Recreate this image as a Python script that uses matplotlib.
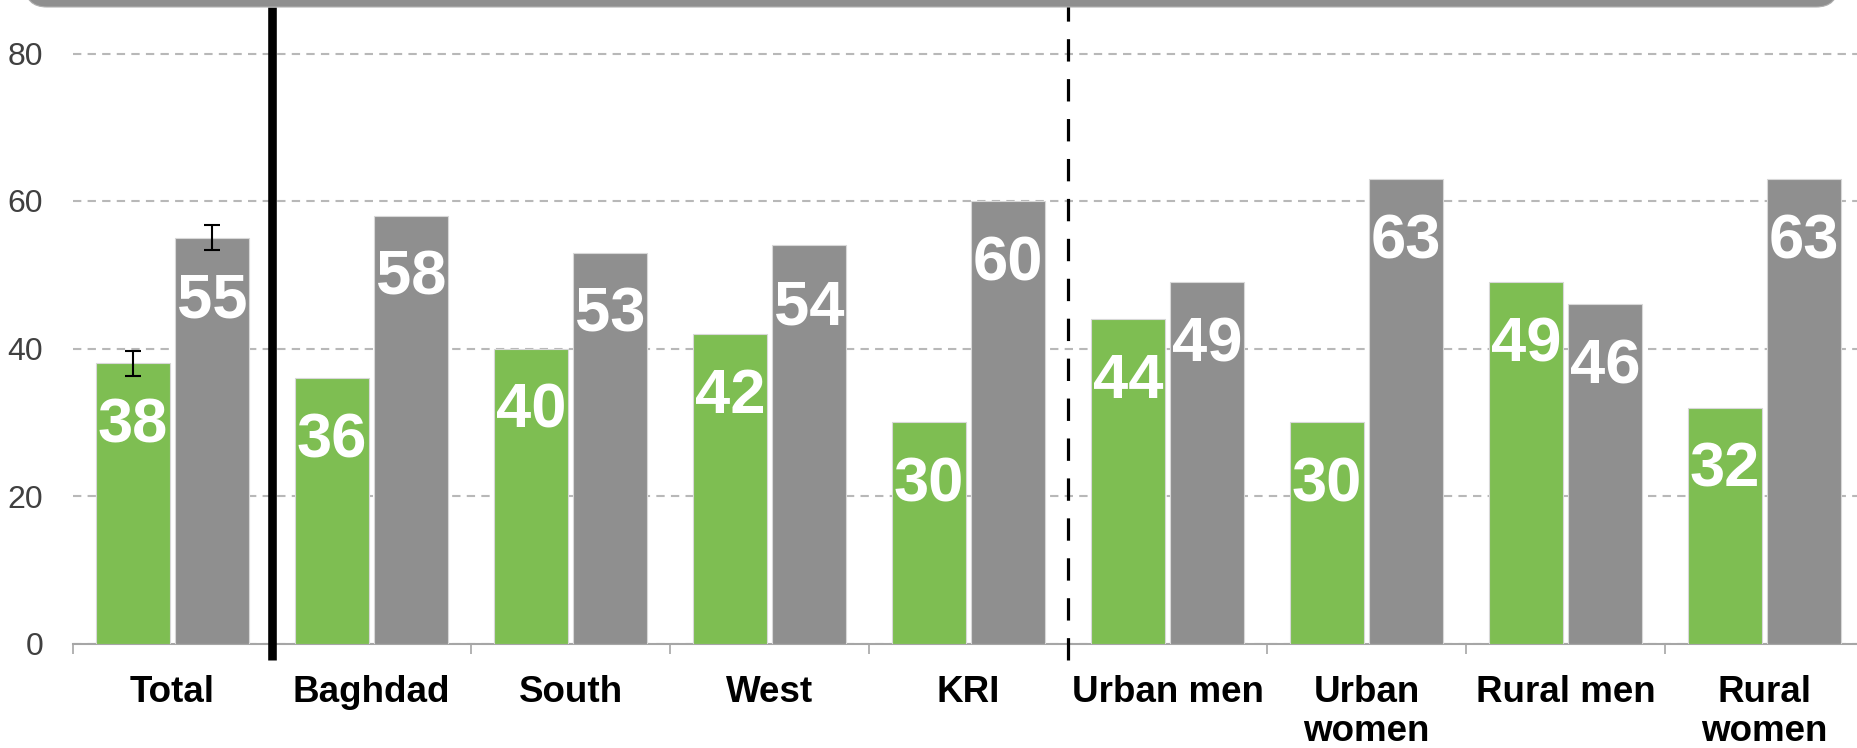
import matplotlib
matplotlib.use("Agg")
import matplotlib.pyplot as plt
import matplotlib.transforms as mtransforms
from matplotlib.patches import FancyBboxPatch
from matplotlib.lines import Line2D
import numpy as np

plt.rcParams['font.family'] = ['Liberation Sans', 'DejaVu Sans']

# Data
categories = ["Total", "Baghdad", "South", "West", "KRI",
              "Urban men", "Urban\nwomen", "Rural men", "Rural\nwomen"]
green_values = [38, 36, 40, 42, 30, 44, 30, 49, 32]
gray_values = [55, 58, 53, 54, 60, 49, 63, 46, 63]
total_err_green = 1.7
total_err_gray = 1.7
yticks = [0, 20, 40, 60, 80]

GREEN = "#7EBE52"
GRAY = "#8F8F8F"

W, H, DPI = 1858, 748, 100
fig = plt.figure(figsize=(W / DPI, H / DPI), dpi=DPI)

# axes: x from 73px to 1864px, y baseline at 643.5px from top, up to the top edge
ax_left, ax_right = 73, 1864
base_y = 643.5
ax = fig.add_axes([ax_left / W, (H - base_y) / H, (ax_right - ax_left) / W, base_y / H])

n = len(categories)
x = np.arange(n)
bw = 0.372
off = 0.1985

ax.set_xlim(-0.5, n - 0.5)
ax.set_ylim(0, base_y / 7.375)

ax.bar(x - off, green_values, width=bw, color=GREEN, edgecolor="#d8d8d8",
       linewidth=0.8, zorder=3)
ax.bar(x + off, gray_values, width=bw, color=GRAY, edgecolor="#d8d8d8",
       linewidth=0.8, zorder=3)

# error bars on the Total group
ax.errorbar([x[0] - off], [green_values[0]], yerr=[total_err_green], fmt='none',
            ecolor='black', elinewidth=1.5, capsize=6, capthick=1.5, zorder=5)
ax.errorbar([x[0] + off], [gray_values[0]], yerr=[total_err_gray], fmt='none',
            ecolor='black', elinewidth=1.5, capsize=6, capthick=1.5, zorder=5)

# value labels inside bars
for xs, vals in ((x - off, green_values), (x + off, gray_values)):
    for xi, v in zip(xs, vals):
        ax.annotate(f"{v}", (xi, v), xytext=(0, -57), textcoords='offset points',
                    ha='center', va='baseline', color='white', fontsize=45.5,
                    fontweight='bold', zorder=6)

# grid
ax.set_yticks(yticks)
ax.yaxis.grid(True, color='#b8b8b8', linewidth=1.5, linestyle=(0, (4, 3)), zorder=0)
ax.set_axisbelow(True)

# spines and ticks
for s in ('top', 'right', 'left'):
    ax.spines[s].set_visible(False)
ax.spines['bottom'].set_color('#a6a6a6')
ax.spines['bottom'].set_linewidth(1.5)

ax.set_xticks(np.arange(-0.5, n, 1.0), minor=False)
ax.set_xticklabels([])
ax.tick_params(axis='x', which='major', direction='out', length=7.2, width=1.2,
               color='#a6a6a6')
ax.set_xticks(x, minor=True)
ax.set_xticklabels(categories, minor=True, fontsize=26.5, fontweight='bold',
                   color='black', linespacing=1.15)
ax.tick_params(axis='x', which='minor', length=0, pad=23)
ax.tick_params(axis='y', length=0, pad=21.5, labelsize=23, labelcolor='#404040')

# separators
trans = mtransforms.blended_transform_factory(ax.transData, ax.transAxes)
y_bot = (base_y - 660) / base_y
y_top = (base_y - 7) / base_y
ax.add_line(Line2D([0.5, 0.5], [y_bot, y_top], transform=trans, color='black',
                   linewidth=6.2, clip_on=False, zorder=7, solid_capstyle='butt'))
ax.add_line(Line2D([4.5, 4.5], [y_bot, 1.05], transform=trans, color='black',
                   linewidth=2.3, linestyle=(0, (7, 5.5)), clip_on=False, zorder=7))

# header band across the top
band = FancyBboxPatch((0.25, (H - 7) / DPI), 18.13, 1.0,
                      boxstyle="round,pad=0,rounding_size=0.22",
                      transform=fig.dpi_scale_trans, facecolor=GRAY,
                      edgecolor='#b0b0b0', linewidth=0.8, zorder=10)
fig.patches.append(band)

fig.savefig("out.png", dpi=DPI)
